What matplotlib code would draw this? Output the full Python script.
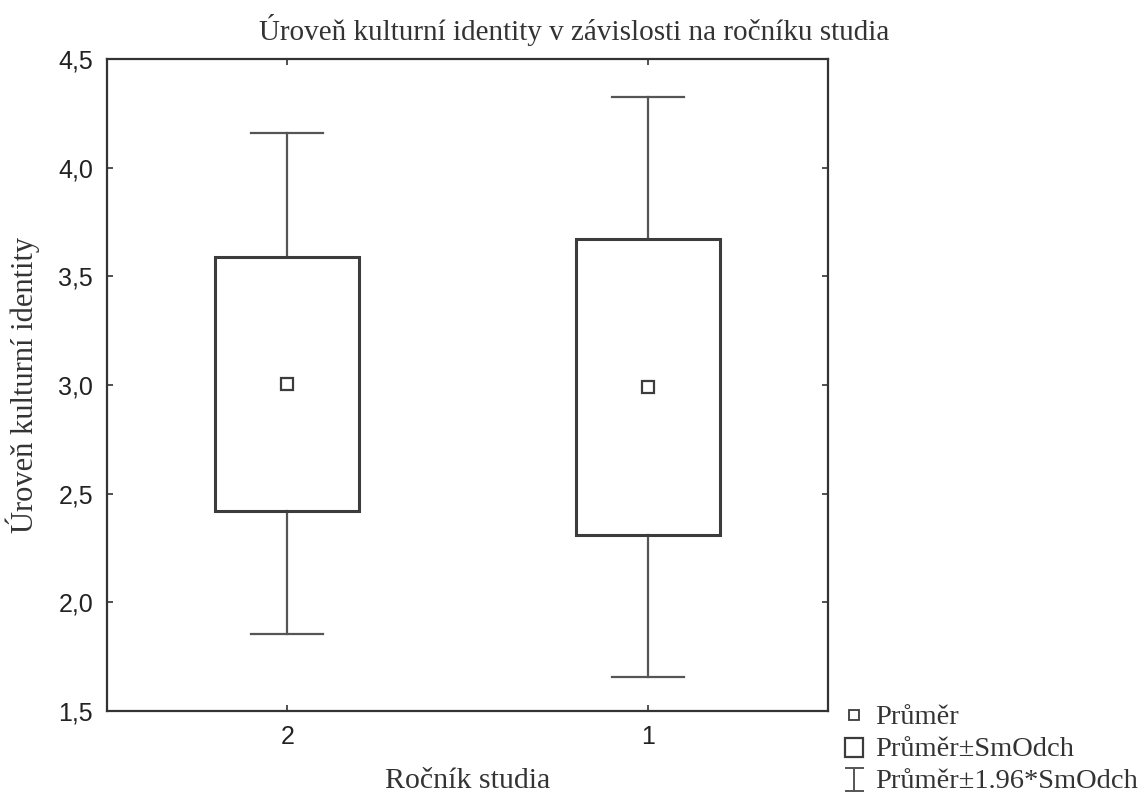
import matplotlib.pyplot as plt
from matplotlib.lines import Line2D
from matplotlib.patches import Rectangle
from matplotlib.legend_handler import HandlerBase

# data
labels = ['2', '1']
mean = [3.005, 2.99]
box_lo = [2.42, 2.31]
box_hi = [3.59, 3.67]
whisk_lo = [1.855, 1.655]
whisk_hi = [4.16, 4.325]

box_col = '#3c3c3c'
wh_col = '#555555'

fig = plt.figure(figsize=(11.48, 7.95), dpi=100)
ax = fig.add_axes([107/1148, 84/795, 721/1148, 652/795])

pos = [1, 2]
bw = 0.4
cw = 0.2
for i, p in enumerate(pos):
    ax.plot([p, p], [box_hi[i], whisk_hi[i]], color=wh_col, lw=1.6, zorder=2)
    ax.plot([p, p], [whisk_lo[i], box_lo[i]], color=wh_col, lw=1.6, zorder=2)
    ax.plot([p - cw/2, p + cw/2], [whisk_hi[i]] * 2, color=wh_col, lw=1.6, zorder=2)
    ax.plot([p - cw/2, p + cw/2], [whisk_lo[i]] * 2, color=wh_col, lw=1.6, zorder=2)
    ax.add_patch(Rectangle((p - bw/2, box_lo[i]), bw, box_hi[i] - box_lo[i],
                           fill=False, ec=box_col, lw=2.2, zorder=3))
    ax.plot(p, mean[i], marker='s', ms=8, mfc='white', mec=box_col, mew=1.6, zorder=4)

ax.set_xlim(0.5, 2.5)
ax.set_ylim(1.5, 4.5)
ax.set_xticks(pos)
ax.set_xticklabels(labels)
yt = [1.5, 2.0, 2.5, 3.0, 3.5, 4.0, 4.5]
ax.set_yticks(yt)
ax.set_yticklabels([('%.1f' % v).replace('.', ',') for v in yt])
ax.tick_params(direction='in', length=4, width=1.2, color='#333333',
               top=True, right=True, labelsize=18, pad=10)
for lab in ax.get_xticklabels() + ax.get_yticklabels():
    lab.set_family('Liberation Sans')
    lab.set_color('#222222')
for s in ax.spines.values():
    s.set_linewidth(1.6)
    s.set_color('#333333')

serif = 'Liberation Serif'
fig.text(0.5, 1 - 40/795, 'Úroveň kulturní identity v závislosti na ročníku studia',
         family=serif, fontsize=21, color='#333333', ha='center', va='baseline')
ax.set_xlabel('Ročník studia', family=serif, fontsize=21.5, color='#333333', labelpad=14)
ax.set_ylabel('Úroveň kulturní identity', family=serif, fontsize=22, color='#333333', labelpad=13)


class WhiskerHandler(HandlerBase):
    def create_artists(self, legend, orig, x0, y0, width, height, fontsize, trans):
        cx = x0 + width / 2
        w = height * 0.85
        h = height * 1.15
        yb = y0 + height / 2 - h / 2 - 1
        yt_ = yb + h
        return [Line2D([cx, cx], [yb, yt_], color=wh_col, lw=1.4, transform=trans),
                Line2D([cx - w/2, cx + w/2], [yt_, yt_], color=wh_col, lw=1.4, transform=trans),
                Line2D([cx - w/2, cx + w/2], [yb, yb], color=wh_col, lw=1.4, transform=trans)]


class BoxHandler(HandlerBase):
    def create_artists(self, legend, orig, x0, y0, width, height, fontsize, trans):
        cx = x0 + width / 2
        w = height * 0.9
        h = height * 0.95
        return [Rectangle((cx - w/2, y0 + height/2 - h/2 - 1), w, h, fill=False,
                          ec=box_col, lw=1.6, transform=trans)]


h_mean = Line2D([], [], marker='s', ls='none', ms=7, mfc='white', mec=box_col, mew=1.3)
h_box = Rectangle((0, 0), 1, 1)
h_wh = object()
leg = fig.legend([h_mean, h_box, h_wh],
                 ['Průměr', 'Průměr±SmOdch', 'Průměr±1.96*SmOdch'],
                 handler_map={Rectangle: BoxHandler(), object: WhiskerHandler()},
                 loc='lower left', bbox_to_anchor=(837/1148, -3/795), frameon=False,
                 prop={'family': serif, 'size': 20.5}, handlelength=0.9,
                 handletextpad=0.3, labelspacing=0.2, borderpad=0.15,
                 borderaxespad=0.0)
for t in leg.get_texts():
    t.set_color('#333333')

fig.savefig('out.png', dpi=100)
